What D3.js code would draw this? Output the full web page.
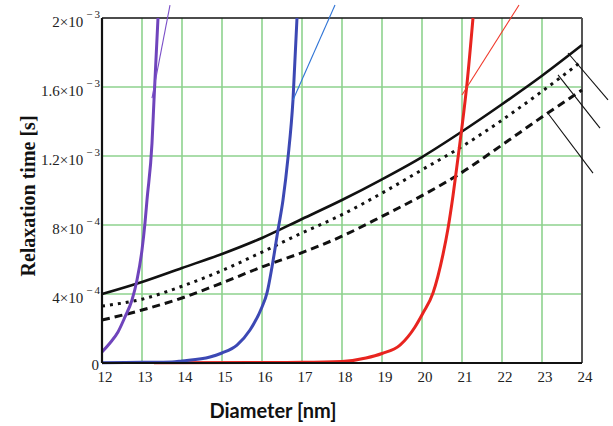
<!DOCTYPE html>
<html><head><meta charset="utf-8">
<script src="https://cdn.jsdelivr.net/npm/d3@7"></script>
<style>body{margin:0;background:#fff}svg{display:block}</style>
</head><body>
<svg id="c" width="613" height="426"></svg>
<script>
// ---- data ----
const xTicks = [12,13,14,15,16,17,18,19,20,21,22,23,24];
const yTicks = [0, 4e-4, 8e-4, 1.2e-3, 1.6e-3, 2e-3];
const yTickLabels = [["0","",""],["4×10","−","4"],["8×10","−","4"],["1.2×10","−","3"],["1.6×10","−","3"],["2×10","−","3"]];
const xTitle = "Diameter [nm]";
const yTitle = "Relaxation time [s]";

const diamBlack = [12,13,14,15,16,17,18,19,20,21,22,23,24];
const solidVals  = [0.400,0.470,0.551,0.632,0.725,0.835,0.945,1.065,1.194,1.342,1.500,1.665,1.843];
const dottedVals = [0.330,0.370,0.445,0.536,0.643,0.754,0.860,0.985,1.120,1.255,1.408,1.575,1.750];
const dashedVals = [0.249,0.307,0.377,0.464,0.557,0.640,0.735,0.850,0.970,1.105,1.264,1.426,1.583];

const purpleX = [12,12.2,12.4,12.575,12.75,12.875,13.0,13.075,13.125,13.25,13.3,13.4];
const purpleY = [0.064,0.116,0.180,0.267,0.365,0.481,0.655,0.812,0.945,1.275,1.525,2.0];
const blueX = [12,13,13.75,14.0,14.7,15.0,15.375,15.7,16.0,16.125,16.25,16.4,16.525,16.65,16.775,16.875];
const blueY = [0.002,0.004,0.006,0.012,0.035,0.058,0.104,0.191,0.325,0.406,0.557,0.771,0.945,1.19,1.525,2.0];
const redX = [13.3,16.0,17.0,18.0,18.6,19.0,19.45,19.825,20.025,20.275,20.525,20.65,20.775,20.9,21.0,21.125,21.275];
const redY = [0.002,0.003,0.004,0.009,0.029,0.055,0.104,0.209,0.290,0.406,0.630,0.780,0.970,1.190,1.370,1.620,2.0];

// tangent segments [x0,y0,x1,y1] (y in 1e-3 s)
const purpleTangent = [13.25,1.536,13.7,2.075];
const blueTangent = [16.775,1.525,17.825,2.075];
const redTangent = [21.0,1.554,22.425,2.075];
// pointer lines
const pointers = [[23.65,1.797,24.65,1.525],[23.4,1.670,24.45,1.362],[23.125,1.455,24.275,1.101]];

// ---- chart ----
const svg = d3.select("#c");
const L=102, T=18, W=480, H=345;
const x = d3.scaleLinear().domain([12,24]).range([L, L+W]);
const y = d3.scaleLinear().domain([0,2e-3]).range([T+H, T]);
const SERIF = "'Liberation Serif', 'Times New Roman', serif";

// grid
const g = svg.append("g");
g.selectAll("line.gx").data(xTicks.slice(1,-1)).join("line")
 .attr("x1",d=>x(d)).attr("x2",d=>x(d)).attr("y1",T).attr("y2",T+H)
 .attr("stroke","#8ed28e").attr("stroke-width",1.6);
g.selectAll("line.gy").data(yTicks.slice(1,-1)).join("line")
 .attr("y1",d=>y(d)).attr("y2",d=>y(d)).attr("x1",L).attr("x2",L+W)
 .attr("stroke","#8ed28e").attr("stroke-width",1.6);

// frame
svg.append("line").attr("x1",L).attr("x2",L+W).attr("y1",T).attr("y2",T).attr("stroke","#111").attr("stroke-width",1.6);
svg.append("line").attr("x1",L+W).attr("x2",L+W).attr("y1",T).attr("y2",T+H).attr("stroke","#555").attr("stroke-width",2);

const mk = (xs, ys) => xs.map((d,i)=>[d, ys[i]*1e-3]);
const line = d3.line().x(d=>x(d[0])).y(d=>y(d[1])).curve(d3.curveMonotoneX);

// black curves
svg.append("path").attr("d", line(mk(diamBlack,dashedVals))).attr("fill","none")
 .attr("stroke","#111").attr("stroke-width",3).attr("stroke-dasharray","8,5");
svg.append("path").attr("d", line(mk(diamBlack,dottedVals))).attr("fill","none")
 .attr("stroke","#111").attr("stroke-width",3).attr("stroke-dasharray","3,5");
svg.append("path").attr("d", line(mk(diamBlack,solidVals))).attr("fill","none")
 .attr("stroke","#111").attr("stroke-width",2.6);

// colored curves
svg.append("path").attr("d", line(mk(redX,redY))).attr("fill","none").attr("stroke","#e8241f").attr("stroke-width",3);
svg.append("path").attr("d", line(mk(blueX,blueY))).attr("fill","none").attr("stroke","#3c48b4").attr("stroke-width",3);
svg.append("path").attr("d", line(mk(purpleX,purpleY))).attr("fill","none").attr("stroke","#6f44bc").attr("stroke-width",3);

// tangents
const seg = (s, col, w) => svg.append("line")
 .attr("x1",x(s[0])).attr("y1",y(s[1]*1e-3)).attr("x2",x(s[2])).attr("y2",y(s[3]*1e-3))
 .attr("stroke",col).attr("stroke-width",w);
seg(purpleTangent,"#7b4fc8",1.1);
seg(blueTangent,"#2f74d6",1.1);
seg(redTangent,"#f0382a",1.1);
pointers.forEach(p=>seg(p,"#111",1.1));

// axes lines left/bottom
svg.append("line").attr("x1",L).attr("x2",L).attr("y1",T).attr("y2",T+H).attr("stroke","#111").attr("stroke-width",2.2);
svg.append("line").attr("x1",L).attr("x2",L+W).attr("y1",T+H).attr("y2",T+H).attr("stroke","#111").attr("stroke-width",2.2);

// x tick labels
svg.selectAll("text.xt").data(xTicks).join("text")
 .attr("x",d=>x(d)+3).attr("y",T+H+19).attr("text-anchor","middle")
 .attr("font-family",SERIF).attr("font-size",15).attr("fill","#222")
 .text(d=>d);

// y tick labels
yTicks.forEach((v,i)=>{
  const lab = yTickLabels[i];
  const t = svg.append("text").attr("text-anchor","end")
    .attr("font-family",SERIF).attr("font-size",15).attr("fill","#222");
  if(lab[1]===""){
    t.attr("x",L-3).attr("y",y(v)+7).text(lab[0]);
  } else {
    t.attr("x",L-2).attr("y",y(v)+9);
    t.append("tspan").text(lab[0]);
    t.append("tspan").attr("font-size",11).attr("dx",3).attr("dy",-9).text(lab[1]);
    t.append("tspan").attr("font-size",11).attr("dx",2).text(lab[2]);
  }
});

// titles
svg.append("text").attr("x",273).attr("y",418).attr("text-anchor","middle")
 .attr("font-family","Lato, sans-serif").attr("font-weight","bold").attr("font-size",20).attr("fill","#111")
 .text(xTitle);
svg.append("text").attr("transform","translate(35,196) rotate(-90)").attr("text-anchor","middle")
 .attr("font-family",SERIF).attr("font-weight","bold").attr("font-size",20).attr("fill","#111")
 .text(yTitle);
</script>
</body></html>
